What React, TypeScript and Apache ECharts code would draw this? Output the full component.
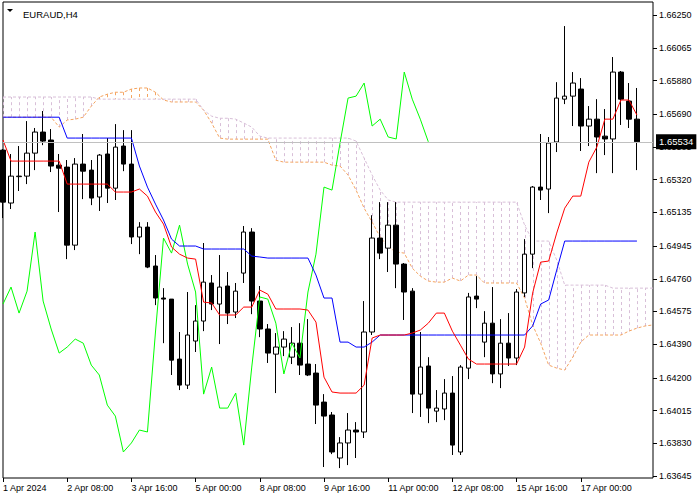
import React, { useEffect, useRef } from "react";
import * as echarts from "echarts";

const FONT = "Liberation Sans";

const days = ["1 Apr", "2 Apr", "3 Apr", "4 Apr", "5 Apr", "8 Apr", "9 Apr", "10 Apr", "11 Apr", "12 Apr", "15 Apr", "16 Apr", "17 Apr", "18 Apr"];
const hours = ["00:00", "04:00", "08:00", "12:00", "16:00", "20:00"];
const categories: string[] = [];
days.forEach((d) => hours.forEach((h) => categories.push(d + " " + h)));
categories.length = 82;

const xTickLabels = ["1 Apr 2024", "2 Apr 08:00", "3 Apr 16:00", "5 Apr 00:00", "8 Apr 08:00", "9 Apr 16:00", "11 Apr 00:00", "12 Apr 08:00", "15 Apr 16:00", "17 Apr 00:00"];
const yTicks = [1.63645, 1.6383, 1.64015, 1.642, 1.6439, 1.64575, 1.6476, 1.64945, 1.65135, 1.6532, 1.65505, 1.6569, 1.6588, 1.66065, 1.6625];

const opens = [
  1.65487, 1.65188, 1.65337, 1.6534, 1.6547, 1.65589, 1.65544, 1.65402, 1.65391, 1.6495,
  1.65408, 1.65374, 1.65222, 1.65465, 1.65272, 1.6551, 1.65408, 1.64996, 1.65052, 1.64832,
  1.64651, 1.64645, 1.64306, 1.64159, 1.64408, 1.64521, 1.64736, 1.64617, 1.64719, 1.64572,
  1.64792, 1.65024, 1.64634, 1.64476, 1.64334, 1.64374, 1.64317, 1.64396, 1.64278, 1.64227,
  1.64063, 1.6399, 1.63747, 1.63832, 1.63905, 1.63894, 1.64459, 1.6499, 1.64933, 1.65063,
  1.64843, 1.6469, 1.64108, 1.64267, 1.64012, 1.64024, 1.64114, 1.63781, 1.64255, 1.64662,
  1.64402, 1.64509, 1.64222, 1.64396, 1.64312, 1.6468, 1.64899, 1.65278, 1.65267, 1.65533,
  1.65775, 1.65792, 1.65832, 1.65623, 1.65662, 1.65566, 1.6555, 1.65928, 1.65764, 1.65662,
];
const closes = [
  1.65193, 1.6534, 1.6534, 1.6547, 1.65589, 1.65538, 1.65397, 1.65385, 1.6495, 1.65408,
  1.65368, 1.65216, 1.65459, 1.65272, 1.65504, 1.65408, 1.64996, 1.65052, 1.64826, 1.64651,
  1.64645, 1.643, 1.64159, 1.64442, 1.64521, 1.64741, 1.64617, 1.64713, 1.64566, 1.6469,
  1.65024, 1.64634, 1.64476, 1.6434, 1.64374, 1.64419, 1.64396, 1.64272, 1.64216, 1.64046,
  1.63984, 1.63781, 1.63832, 1.63905, 1.63894, 1.64459, 1.6499, 1.64905, 1.65063, 1.64843,
  1.64685, 1.64108, 1.64261, 1.64029, 1.64029, 1.64114, 1.6382, 1.64261, 1.64657, 1.64645,
  1.64509, 1.64222, 1.64396, 1.64312, 1.64685, 1.64899, 1.65278, 1.65261, 1.65527, 1.65781,
  1.65792, 1.65866, 1.65623, 1.65662, 1.65561, 1.6555, 1.65928, 1.65775, 1.65662, 1.65534,
];
const lows = [
  1.65103, 1.65154, 1.65256, 1.65295, 1.65374, 1.65515, 1.65363, 1.65137, 1.64871, 1.64922,
  1.6521, 1.65176, 1.65143, 1.65188, 1.65205, 1.65368, 1.64956, 1.64899, 1.6482, 1.64611,
  1.64396, 1.64216, 1.64131, 1.64137, 1.64346, 1.64464, 1.64583, 1.64391, 1.64504, 1.64538,
  1.64736, 1.6456, 1.6443, 1.64284, 1.64114, 1.64323, 1.64278, 1.64216, 1.6421, 1.63939,
  1.63696, 1.63769, 1.6369, 1.63707, 1.63747, 1.6386, 1.64442, 1.64871, 1.64798, 1.64707,
  1.64527, 1.64001, 1.63979, 1.63944, 1.6395, 1.63961, 1.63764, 1.63764, 1.64193, 1.64594,
  1.64317, 1.6417, 1.64142, 1.64267, 1.64272, 1.64657, 1.6482, 1.65205, 1.65131, 1.65476,
  1.65747, 1.65623, 1.65482, 1.6551, 1.65357, 1.65459, 1.65357, 1.65629, 1.65612, 1.65374,
];
const highs = [
  1.65493, 1.65465, 1.6551, 1.65651, 1.65612, 1.65708, 1.65606, 1.65465, 1.65431, 1.65442,
  1.65578, 1.65431, 1.65465, 1.65555, 1.65634, 1.656, 1.656, 1.6508, 1.6508, 1.64894,
  1.64707, 1.64645, 1.64459, 1.64685, 1.64611, 1.64962, 1.64781, 1.64894, 1.64798, 1.64736,
  1.65058, 1.65046, 1.64719, 1.64504, 1.64453, 1.64464, 1.64487, 1.64509, 1.64532, 1.64278,
  1.64108, 1.64007, 1.63865, 1.64001, 1.6395, 1.64634, 1.65119, 1.65193, 1.65193, 1.65193,
  1.64849, 1.64707, 1.64459, 1.64317, 1.64131, 1.64193, 1.6421, 1.64272, 1.6468, 1.64775,
  1.64577, 1.64713, 1.64532, 1.64566, 1.64702, 1.64984, 1.65284, 1.65578, 1.65561, 1.65871,
  1.66188, 1.65928, 1.65894, 1.65736, 1.65775, 1.65719, 1.66013, 1.65934, 1.65866, 1.65838,
];

const tenkan = [
  1.65544, 1.65425, 1.65425, 1.65425, 1.65425, 1.65425, 1.65425, 1.65425, 1.65295, 1.65295,
  1.65295, 1.65295, 1.65295, 1.65295, 1.6525, 1.6525, 1.6525, 1.65267, 1.65227, 1.65137,
  1.65069, 1.64939, 1.64899, 1.64877, 1.64871, 1.64628, 1.64623, 1.64555, 1.64555, 1.64555,
  1.646, 1.646, 1.64696, 1.64673, 1.64589, 1.64589, 1.64589, 1.64589, 1.64583, 1.64515,
  1.64204, 1.6412, 1.64114, 1.64114, 1.64114, 1.64159, 1.64425, 1.64442, 1.64442, 1.64442,
  1.64442, 1.64453, 1.6447, 1.64509, 1.64566, 1.64566, 1.64464, 1.64385, 1.64306, 1.64278,
  1.64278, 1.64278, 1.64278, 1.64278, 1.64278, 1.64374, 1.64679, 1.64854, 1.6486, 1.65018,
  1.65159, 1.65227, 1.65227, 1.65419, 1.65504, 1.65662, 1.65662, 1.6577, 1.6577, 1.65685,
];
const kijun = [
  1.65673, 1.65673, 1.65673, 1.65673, 1.65673, 1.65673, 1.65673, 1.65673, 1.65555, 1.65555,
  1.65555, 1.65555, 1.65555, 1.65555, 1.65555, 1.65555, 1.65555, 1.65397, 1.65278, 1.65182,
  1.65092, 1.64984, 1.64945, 1.64945, 1.64945, 1.64928, 1.64928, 1.64928, 1.64928, 1.64928,
  1.64928, 1.64888, 1.64883, 1.64877, 1.64877, 1.64877, 1.64877, 1.64877, 1.64877, 1.64781,
  1.64651, 1.64651, 1.64402, 1.64402, 1.64374, 1.64374, 1.64402, 1.64442, 1.64442, 1.64442,
  1.64442, 1.64442, 1.64442, 1.64442, 1.64442, 1.64442, 1.64442, 1.64442, 1.64442, 1.64442,
  1.64442, 1.64442, 1.64442, 1.64442, 1.64442, 1.64442, 1.64493, 1.64617, 1.6464, 1.64809,
  1.64973, 1.64973, 1.64973, 1.64973, 1.64973, 1.64973, 1.64973, 1.64973, 1.64973, 1.64973,
];
const spanA = [
  1.65673, 1.65673, 1.65673, 1.65673, 1.65673, 1.65673, 1.65673, 1.65617, 1.65657, 1.65662,
  1.65673, 1.65735, 1.65787, 1.65803, 1.65814, 1.65814, 1.65832, 1.65838, 1.65838, 1.65814,
  1.6577, 1.65759, 1.65759, 1.65759, 1.65759, 1.65713, 1.6564, 1.65555, 1.65549, 1.65549,
  1.65549, 1.65549, 1.65549, 1.65549, 1.6543, 1.65419, 1.65419, 1.65419, 1.65419, 1.65419,
  1.65419, 1.65402, 1.65397, 1.65346, 1.65261, 1.65159, 1.6508, 1.64996, 1.64939, 1.64911,
  1.64905, 1.6482, 1.64775, 1.64747, 1.64741, 1.64741, 1.64764, 1.64747, 1.64781, 1.64781,
  1.64736, 1.64736, 1.64736, 1.64736, 1.64736, 1.64651, 1.64499, 1.64396, 1.64272, 1.64255,
  1.64244, 1.64317, 1.64402, 1.64442, 1.64442, 1.64442, 1.64442, 1.64442, 1.64464, 1.64481,
  1.64493, 1.64499,
];
const spanB = [
  1.65787, 1.65787, 1.65787, 1.65787, 1.65787, 1.65787, 1.65787, 1.65787, 1.65787, 1.65787,
  1.65787, 1.65787, 1.65775, 1.65775, 1.65775, 1.65775, 1.65775, 1.65775, 1.65775, 1.65775,
  1.65775, 1.65775, 1.65775, 1.65775, 1.65775, 1.65713, 1.65679, 1.65667, 1.65667, 1.65662,
  1.6564, 1.65617, 1.65566, 1.65555, 1.65555, 1.65555, 1.65555, 1.65555, 1.65555, 1.65555,
  1.65555, 1.65555, 1.65555, 1.65555, 1.65538, 1.65442, 1.65346, 1.65261, 1.65205, 1.65193,
  1.65193, 1.65193, 1.65193, 1.65193, 1.65193, 1.65193, 1.65193, 1.65193, 1.65193, 1.65193,
  1.65193, 1.65193, 1.65193, 1.65193, 1.65193, 1.65063, 1.64973, 1.64973, 1.64973, 1.64866,
  1.64724, 1.64724, 1.64724, 1.64724, 1.64724, 1.64724, 1.64707, 1.64707, 1.64707, 1.64707,
  1.64707, 1.64707,
];

const SANDY = "#F4A460";
const THISTLE = "#D8BFD8";

export default function App() {
  const ref = useRef<HTMLDivElement>(null);
  useEffect(() => {
    if (!ref.current) return;
    const chart = echarts.init(ref.current, null, { renderer: "svg" });
    const candles = opens.map((o, i) => [o, closes[i], lows[i], highs[i]]);
    const chikou = closes.slice(26);
    const lastPrice = closes[closes.length - 1];
    const tickInterval = (i: number) => i % 8 === 0 && i < 80;
    const option: any = {
      animation: false,
      backgroundColor: "#fff",
      textStyle: { fontFamily: FONT },
      title: {
        text: "EURAUD,H4",
        left: 18,
        top: 4,
        textStyle: { fontSize: 9.5, fontWeight: "normal", color: "#000", fontFamily: FONT },
      },
      graphic: [
        { type: "polygon", shape: { points: [[7, 9], [13, 9], [10, 12]] }, style: { fill: "#000" } },
      ],
      grid: {
        left: 2,
        top: 2,
        right: 47,
        bottom: 22,
        show: true,
        borderColor: "#000",
        borderWidth: 1,
        backgroundColor: "#fff",
      },
      xAxis: {
        type: "category",
        data: categories,
        boundaryGap: false,
        axisLine: { show: false },
        axisTick: { show: true, interval: tickInterval, length: 4, lineStyle: { color: "#000" } },
        axisLabel: {
          interval: tickInterval,
          formatter: (v: string, i: number) => xTickLabels[i / 8] ?? v,
          align: "left",
          margin: 5,
          color: "#000",
          fontSize: 9,
          fontFamily: FONT,
        },
        splitLine: { show: false },
      },
      yAxis: {
        type: "value",
        position: "right",
        min: 1.63634,
        max: 1.66324,
        axisLine: { show: false },
        axisTick: { show: true, length: 4, customValues: yTicks, lineStyle: { color: "#000" } },
        axisLabel: {
          customValues: yTicks,
          formatter: (v: number) => v.toFixed(5),
          color: "#000",
          fontSize: 9,
          fontFamily: FONT,
          margin: 6,
        },
        splitLine: { show: false },
      },
      series: [
        {
          type: "custom",
          name: "kumo",
          z: 1,
          clip: true,
          data: spanA.map((a, i) => [i, a, spanB[i]]),
          encode: { x: 0, y: [1, 2] },
          renderItem: (params: any, api: any) => {
            const i = api.value(0);
            const a = api.value(1);
            const b = api.value(2);
            const p1 = api.coord([i, a]);
            const p2 = api.coord([i, b]);
            const x = Math.round(p1[0]) + 0.5;
            return {
              type: "line",
              shape: { x1: x, y1: p1[1], x2: x, y2: p2[1] },
              style: { stroke: a > b ? SANDY : THISTLE, lineWidth: 1, lineDash: [3, 3] },
            };
          },
        },
        {
          type: "line",
          name: "Senkou A",
          data: spanA,
          symbol: "none",
          z: 1,
          lineStyle: { color: SANDY, width: 1, type: [3, 2] },
        },
        {
          type: "line",
          name: "Senkou B",
          data: spanB,
          symbol: "none",
          z: 1,
          lineStyle: { color: THISTLE, width: 1, type: [3, 2] },
          markLine: {
            silent: true,
            precision: 5,
            symbol: ["none", "none"],
            lineStyle: { color: "#C0C0C0", type: "solid", width: 1 },
            label: {
              show: true,
              position: "end",
              distance: 3,
              formatter: () => lastPrice.toFixed(5),
              color: "#fff",
              backgroundColor: "#000",
              padding: [3, 3, 2, 3],
              fontSize: 9.5,
              fontFamily: FONT,
            },
            data: [{ yAxis: lastPrice }],
          },
        },
        {
          type: "candlestick",
          name: "EURAUD",
          data: candles,
          barWidth: 5,
          z: 2,
          itemStyle: {
            color: "#fff",
            color0: "#000",
            borderColor: "#000",
            borderColor0: "#000",
            borderColorDoji: "#000",
            borderWidth: 1,
          },
        },
        {
          type: "line",
          name: "Chikou",
          data: chikou,
          symbol: "none",
          z: 3,
          lineStyle: { color: "#00FF00", width: 1 },
        },
        {
          type: "line",
          name: "Kijun",
          data: kijun,
          symbol: "none",
          z: 3,
          lineStyle: { color: "#0000FF", width: 1 },
        },
        {
          type: "line",
          name: "Tenkan",
          data: tenkan,
          symbol: "none",
          z: 3,
          lineStyle: { color: "#FF0000", width: 1 },
        },
      ],
    };
    chart.setOption(option);
    return () => chart.dispose();
  }, []);
  return (
    <div
      ref={ref}
      style={{ position: "fixed", left: 0, top: 0, width: 700, height: 500, background: "#fff" }}
    />
  );
}
